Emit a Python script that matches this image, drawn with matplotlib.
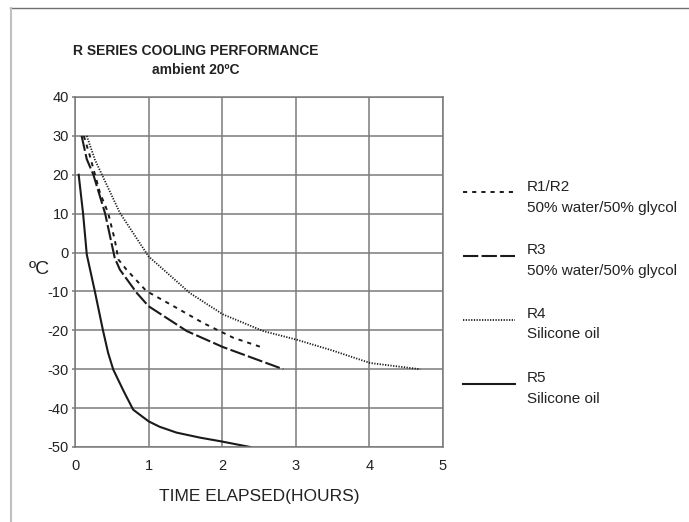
import matplotlib
matplotlib.use("Agg")
import matplotlib.pyplot as plt
from matplotlib.lines import Line2D

plt.rcParams['font.family'] = ['Liberation Sans', 'DejaVu Sans']
plt.rcParams['lines.scale_dashes'] = False
plt.rcParams['axes.unicode_minus'] = False

# data (hours, degC)
r12_x = [0.12, 0.20, 0.34, 0.45, 0.54, 0.59, 0.70, 0.97, 1.34, 1.74, 2.15, 2.56]
r12_y = [30, 25, 15.3, 10.2, 3.3, -1.8, -4.4, -9.9, -13.8, -18.1, -21.9, -24.5]

r3_x = [0.09, 0.16, 0.25, 0.41, 0.54, 0.61, 0.84, 1.00, 1.52, 2.01, 2.83]
r3_y = [30, 24, 20, 10, -1.4, -4.4, -10.4, -13.8, -20.2, -24.3, -30]

r4_x = [0.16, 0.27, 0.61, 1.00, 1.56, 2.01, 2.56, 3.01, 3.50, 4.01, 4.69]
r4_y = [30, 23.9, 10.2, -1, -10.4, -15.9, -20.2, -22.4, -25.2, -28.4, -30]

r5_x = [0.05, 0.11, 0.16, 0.27, 0.38, 0.45, 0.52, 0.66, 0.79, 1.00, 1.15, 1.38, 1.70, 1.97, 2.38]
r5_y = [20, 10, -0.5, -10, -20, -25.8, -30.1, -35.6, -40.4, -43.4, -44.8, -46.3, -47.6, -48.5, -50]

names = ["R1/R2", "R3", "R4", "R5"]
fluids = ["50% water/50% glycol", "50% water/50% glycol", "Silicone oil", "Silicone oil"]
x_ticks = [0, 1, 2, 3, 4, 5]
y_ticks = [-50, -40, -30, -20, -10, 0, 10, 20, 30, 40]

W, H = 689, 522
fig = plt.figure(figsize=(W / 100, H / 100), dpi=100)
ax = fig.add_axes([75 / W, 1 - 447 / H, (443 - 75) / W, (447 - 97) / H])

grey = '#7a7a7a'
ink = '#1a1a1a'
txt = '#222222'
styles = [
    dict(dashes=(3.0, 3.6), lw=1.4),
    dict(dashes=(11, 2.4), lw=1.5),
    dict(dashes=(0.9, 1.05), lw=1.3),
    dict(linestyle='-', lw=1.5),
]
series = [(r12_x, r12_y), (r3_x, r3_y), (r4_x, r4_y), (r5_x, r5_y)]
for (xs, ys), st in zip(series, styles):
    ax.plot(xs, ys, color=ink, **st)

ax.set_xlim(0, 5)
ax.set_ylim(-50, 40)
ax.set_xticks(x_ticks)
ax.set_yticks(y_ticks)
ax.grid(True, color=grey, lw=1.1)
for s in ax.spines.values():
    s.set_color(grey)
    s.set_linewidth(1.1)
ax.tick_params(axis='y', length=2.5, width=1.1, color=grey, pad=2, labelsize=10.5, labelcolor=txt)
ax.tick_params(axis='x', length=0, pad=9, labelsize=10.5, labelcolor=txt)
ax.set_xlabel("TIME ELAPSED(HOURS)", fontsize=12.5, color=txt, va='center')
ax.xaxis.set_label_coords(0.5, -(496 - 447) / 350, transform=ax.transAxes)
ax.set_ylabel("ºC", fontsize=14, rotation=0, color=txt, va='center', ha='center')
ax.yaxis.set_label_coords((39 - 75) / 368, (447 - 270) / 350)

fig.text(196 / W, 1 - 51 / H, "R SERIES COOLING PERFORMANCE", ha='center', va='center',
         fontsize=10, fontweight='bold', color=txt)
fig.text(196 / W, 1 - 70 / H, "ambient 20ºC", ha='center', va='center',
         fontsize=10, fontweight='bold', color=txt)

# legend drawn by hand: sample line + two text lines
leg_line_y = [191.5, 255.5, 319.5, 383.5]
leg_txt_y = [187, 250, 313.5, 378]
for i, st in enumerate(styles):
    y = 1 - leg_line_y[i] / H
    fig.add_artist(Line2D([463 / W, 515 / W], [y, y], transform=fig.transFigure, color=ink, **st))
    fig.text(527 / W, 1 - leg_txt_y[i] / H, names[i], ha='left', va='center', fontsize=11, color=txt)
    fig.text(527 / W, 1 - (leg_txt_y[i] + 21) / H, fluids[i], ha='left', va='center', fontsize=11, color=txt)

# page frame (top and left edge only)
fig.add_artist(Line2D([10 / W, 1], [1 - 8 / H, 1 - 8 / H], transform=fig.transFigure, color='#707070', lw=1.0))
fig.add_artist(Line2D([11 / W, 11 / W], [0, 1 - 8 / H], transform=fig.transFigure, color='#c0c0c0', lw=1.5))

fig.savefig("out.png", dpi=100)
